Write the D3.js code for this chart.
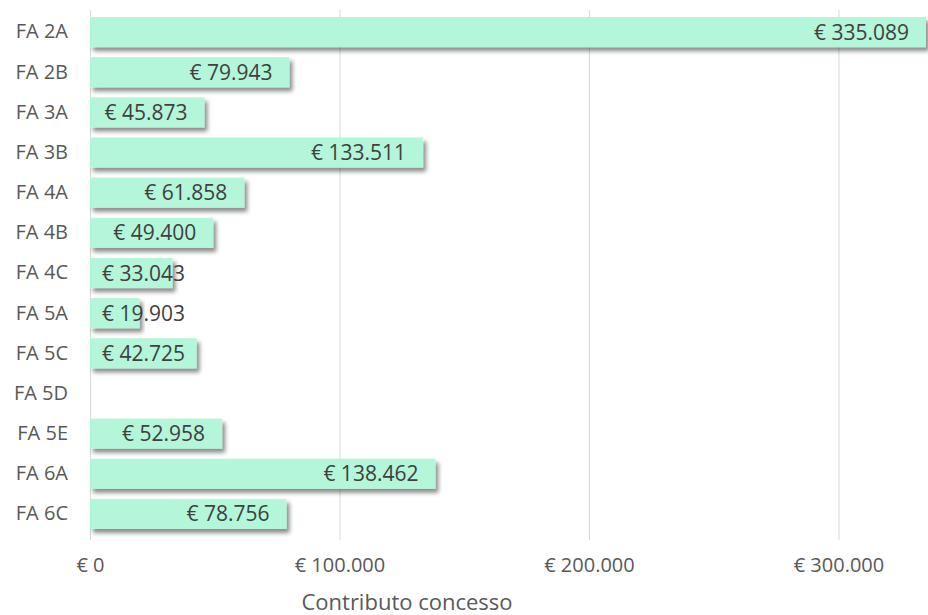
<!DOCTYPE html>
<html lang="it">
<head>
<meta charset="utf-8">
<title>Contributo concesso</title>
<script src="https://cdnjs.cloudflare.com/ajax/libs/d3/7.8.5/d3.min.js"></script>
<style>
  body { margin: 0; background: #fff; }
  svg text { font-family: "Open Sans", "Noto Sans", sans-serif; }
  .grid line { stroke: #d9d9d9; stroke-width: 1; }
</style>
</head>
<body>
<svg id="chart" width="928" height="615"></svg>
<script>
var categories = ["FA 2A", "FA 2B", "FA 3A", "FA 3B", "FA 4A", "FA 4B", "FA 4C",
                  "FA 5A", "FA 5C", "FA 5D", "FA 5E", "FA 6A", "FA 6C"];
var values = [335089, 79943, 45873, 133511, 61858, 49400, 33043,
              19903, 42725, null, 52958, 138462, 78756];
var tickValues = [0, 100000, 200000, 300000];
var axisTitle = "Contributo concesso";

var data = categories.map(function(c, i) { return {cat: c, value: values[i]}; });

var it = d3.formatLocale({decimal: ",", thousands: ".", grouping: [3], currency: ["€ ", ""]});
var euro = it.format("$,.0f");

var svg = d3.select("#chart");
var plotLeft = 90, plotRight = 926, plotTop = 12, plotBottom = 534;

var x = d3.scaleLinear().domain([0, 335089]).range([plotLeft, plotRight]);
var y = d3.scaleBand().domain(categories).range([plotTop, plotBottom]).paddingInner(0.25).paddingOuter(0.125);

var defs = svg.append("defs");
var f = defs.append("filter").attr("id", "shadow")
    .attr("x", "-5%").attr("y", "-30%").attr("width", "115%").attr("height", "170%");
f.append("feDropShadow").attr("dx", 3).attr("dy", 4).attr("stdDeviation", 2)
    .attr("flood-color", "#000").attr("flood-opacity", 0.45);

// gridlines
svg.append("g").attr("class", "grid")
  .selectAll("line")
  .data(tickValues)
  .enter().append("line")
    .attr("x1", function(d) { return x(d) + 0.5; })
    .attr("x2", function(d) { return x(d) + 0.5; })
    .attr("y1", plotTop - 2)
    .attr("y2", plotBottom + 6);

// bars
var bars = data.filter(function(d) { return d.value != null; });
svg.append("g")
  .selectAll("rect")
  .data(bars)
  .enter().append("rect")
    .attr("x", x(0))
    .attr("y", function(d) { return y(d.cat); })
    .attr("width", function(d) { return x(d.value) - x(0); })
    .attr("height", y.bandwidth())
    .attr("fill", "#b4f6d9")
    .attr("filter", "url(#shadow)");

// value labels
svg.append("g")
  .selectAll("text")
  .data(bars)
  .enter().append("text")
    .attr("y", function(d) { return y(d.cat) + y.bandwidth() / 2; })
    .attr("dy", "0.36em")
    .attr("fill", "#404040")
    .style("font-size", "21px")
    .text(function(d) { return euro(d.value); })
    .each(function(d) {
      var w = this.getComputedTextLength();
      var xs = Math.max(x(d.value) - 17 - w, x(0) + 12);
      d3.select(this).attr("x", xs);
    });

// category axis
svg.append("g")
    .attr("transform", "translate(" + (plotLeft - 22) + ",0)")
    .call(d3.axisLeft(y).tickSize(0).tickPadding(0))
    .call(function(g) { g.select(".domain").remove(); })
    .selectAll("text")
      .attr("fill", "#595959")
      .style("font-size", "20px")
      .style("font-family", "'Open Sans', sans-serif");

// value axis
svg.append("g")
    .attr("transform", "translate(0," + (plotBottom + 20) + ")")
    .call(d3.axisBottom(x).tickValues(tickValues).tickFormat(euro).tickSize(0).tickPadding(4))
    .call(function(g) { g.select(".domain").remove(); })
    .selectAll("text")
      .attr("fill", "#595959")
      .style("font-size", "20px")
      .style("font-family", "'Open Sans', sans-serif");

svg.append("text")
    .attr("x", 407)
    .attr("y", 610)
    .attr("text-anchor", "middle")
    .attr("fill", "#595959")
    .style("font-size", "22px")
    .text(axisTitle);
</script>
</body>
</html>
